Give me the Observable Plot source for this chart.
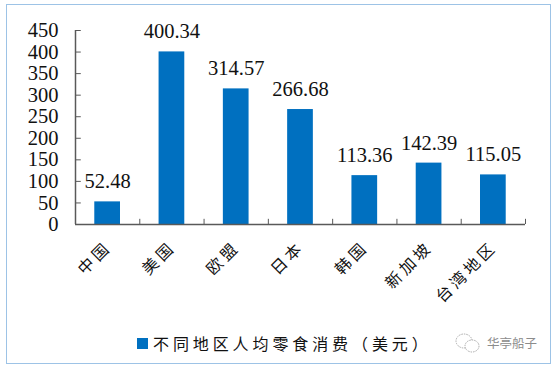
<!DOCTYPE html>
<html><head><meta charset="utf-8">
<script src="https://cdn.jsdelivr.net/npm/d3@7"></script>
<script src="https://cdn.jsdelivr.net/npm/@observablehq/plot@0.6"></script>
<style>
html,body{margin:0;padding:0;background:#fff;}
#wrap{position:relative;width:554px;height:367px;overflow:hidden;}
#frame{position:absolute;left:6px;top:4px;width:543px;height:358px;border:1.5px solid #9DC3E6;box-sizing:content-box;}
#chart{position:absolute;left:0;top:0;}
#chart svg{background:transparent;}
.xl text{letter-spacing:3.6px;}
#legend{position:absolute;left:137px;top:332px;height:22px;display:flex;align-items:center;font:16px "Noto Sans CJK SC",sans-serif;letter-spacing:3.9px;color:#111;white-space:nowrap;}
#legend i{display:inline-block;width:11px;height:11px;background:#0070C0;margin-right:5px;}
#mark{position:absolute;left:487px;top:333px;font:12.5px "Noto Sans CJK SC",sans-serif;color:#8c8c8c;white-space:nowrap;}
#icon{position:absolute;left:455px;top:332px;}
</style></head><body>
<div id="wrap">
  <div id="frame"></div>
  <div id="chart"></div>
  <div id="legend"><i></i><span>不同地区人均零食消费（美元）</span></div>
  <svg id="icon" width="26" height="22" fill="#fff" stroke="#aaa" stroke-width="1" stroke-dasharray="1.5 1"><ellipse cx="9" cy="9" rx="8" ry="7"/><ellipse cx="17" cy="14" rx="7" ry="6"/></svg>
  <div id="mark">华亭船子</div>
</div>
<script>
const regions = ["中国","美国","欧盟","日本","韩国","新加坡","台湾地区"];
const spending = [52.48,400.34,314.57,266.68,113.36,142.39,115.05];
const yTicks = [0,50,100,150,200,250,300,350,400,450];
const xBoundaries = [0,1,2,3,4,5,6,7];
const labels = ["52.48","400.34","314.57","266.68","113.36","142.39","115.05"];

const rows = regions.map((r,i)=>({r,i,v:spending[i],label:labels[i]}));
const serif = "'Liberation Serif','Times New Roman',serif";
const cjk = "'Noto Sans CJK SC',sans-serif";

const plot = Plot.plot({
  width:554, height:367,
  marginTop:30, marginBottom:143, marginLeft:75, marginRight:29,
  style:{background:"transparent"},
  x:{domain:[0,7], axis:null},
  y:{domain:[0,450], axis:null},
  marks:[
    Plot.rectY(rows,{x1:d=>d.i+0.3,x2:d=>d.i+0.7,y1:0,y2:"v",fill:"#0070C0"}),
    // axis lines
    Plot.ruleX([0],{y1:0,y2:450,stroke:"#595959",strokeWidth:1.5}),
    Plot.ruleY([0],{x1:0,x2:7,stroke:"#595959",strokeWidth:1.5}),
    // inward ticks
    Plot.ruleY(yTicks,{x1:0,x2:0.09,stroke:"#595959",strokeWidth:1}),
    Plot.ruleX(xBoundaries,{y1:0,y2:12,stroke:"#595959",strokeWidth:1}),
    // y tick labels
    Plot.text(yTicks,{x:0,y:d=>d,text:d=>String(d),textAnchor:"end",dx:-17,fontFamily:serif,fontSize:20.5,fill:"#111"}),
    // value labels
    Plot.text(rows,{x:d=>d.i+0.5,y:"v",text:"label",dy:-20,fontFamily:serif,fontSize:20.5,fill:"#111"}),
    // rotated category labels
    Plot.text(rows,{x:d=>d.i+0.5,y:0,text:"r",textAnchor:"end",rotate:-45,dx:1,dy:20,fontFamily:cjk,fontSize:16,fill:"#111",className:"xl"})
  ]
});
document.getElementById("chart").appendChild(plot);
</script>
</body></html>
